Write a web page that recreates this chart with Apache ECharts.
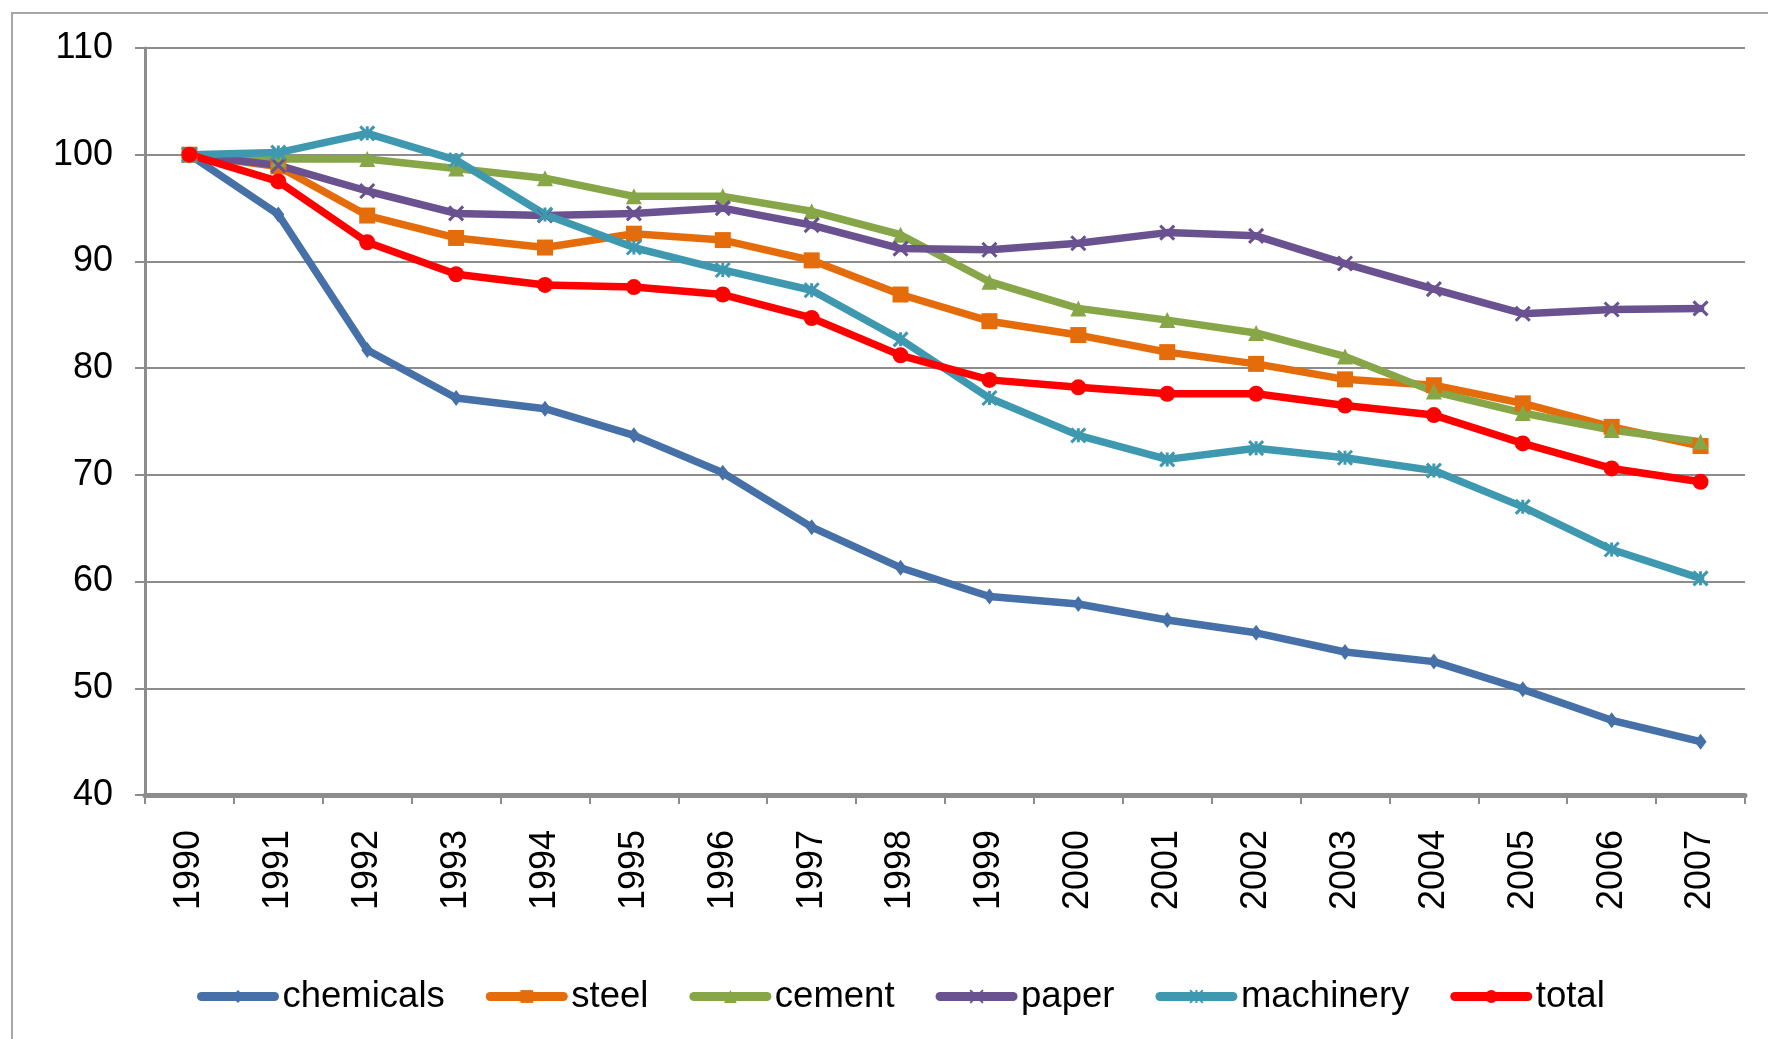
<!DOCTYPE html>
<html>
<head>
<meta charset="utf-8">
<script src="https://cdn.jsdelivr.net/npm/echarts@6/dist/echarts.min.js"></script>
<style>html,body{margin:0;padding:0;background:#fff;}#c{width:1768px;height:1039px;}</style>
</head>
<body>
<div id="c"></div>
<script>
const years = ['1990','1991','1992','1993','1994','1995','1996','1997','1998','1999','2000','2001','2002','2003','2004','2005','2006','2007'];
const chemicals = [100,94.4,81.7,77.2,76.2,73.7,70.2,65.1,61.3,58.6,57.9,56.4,55.2,53.4,52.5,49.9,47.0,45.0];
const steel = [100,98.9,94.3,92.2,91.3,92.6,92.0,90.1,86.9,84.4,83.1,81.5,80.4,78.95,78.4,76.7,74.5,72.7];
const cement = [100,99.6,99.6,98.7,97.8,96.1,96.1,94.7,92.5,88.1,85.6,84.5,83.3,81.1,77.8,75.8,74.2,73.1];
const paper = [100,99.0,96.6,94.5,94.3,94.5,95.0,93.4,91.2,91.1,91.7,92.7,92.4,89.8,87.4,85.1,85.5,85.6];
const machinery = [100,100.2,102.0,99.5,94.4,91.3,89.2,87.3,82.7,77.2,73.7,71.45,72.5,71.6,70.4,67.0,63.0,60.3];
const total = [100,97.5,91.8,88.8,87.8,87.6,86.9,84.7,81.2,78.9,78.2,77.6,77.6,76.5,75.6,72.95,70.6,69.35];
const yTicks = {min: 40, max: 110, interval: 10};

const FONT = '"Liberation Sans", Arial, sans-serif';
const xPath = 'path://M0 0L10 10M10 0L0 10';
const starPath = 'path://M0 0L10 10M10 0L0 10M5 0L5 10';

function mk(name, data, color, symbol, size, stroke) {
  return {
    name: name, type: 'line', data: data,
    symbol: symbol, symbolSize: size,
    lineStyle: {width: 7.5, color: color, cap: 'round', join: 'round'},
    itemStyle: stroke ? {color: color, borderColor: color, borderWidth: 3} : {color: color},
    emphasis: {disabled: true},
    animation: false
  };
}

const chart = echarts.init(document.getElementById('c'), null, {renderer: 'canvas'});
chart.setOption({
  animation: false,
  backgroundColor: '#ffffff',
  graphic: [{
    type: 'rect', silent: true,
    shape: {x: 12, y: 13, width: 1800, height: 1100},
    style: {fill: 'none', stroke: '#a6a6a6', lineWidth: 2}
  }],
  grid: {left: 145, right: 23, top: 48, bottom: 244, containLabel: false},
  legend: {
    left: 192, top: 973,
    itemWidth: 73, itemHeight: 16, itemGap: 41,
    lineStyle: {width: 9, cap: 'round'},
    textStyle: {fontSize: 36.5, fontFamily: FONT, color: '#000', padding: [0, 0, 0, 3]},
    data: ['chemicals','steel','cement','paper','machinery','total']
  },
  xAxis: {
    type: 'category', data: years, boundaryGap: true,
    axisLine: {show: true, lineStyle: {color: '#8c8c8c', width: 5}},
    axisTick: {show: true, interval: 0, length: 9, lineStyle: {color: '#8c8c8c', width: 2}},
    axisLabel: {interval: 0, rotate: 90, margin: 35, fontSize: 36, fontFamily: FONT, color: '#000'},
    splitLine: {show: false}
  },
  yAxis: {
    type: 'value', min: yTicks.min, max: yTicks.max, interval: yTicks.interval,
    axisLine: {show: true, lineStyle: {color: '#8c8c8c', width: 3}},
    axisTick: {show: true, length: 10, lineStyle: {color: '#8c8c8c', width: 2}},
    axisLabel: {margin: 32, fontSize: 36, fontFamily: FONT, color: '#000'},
    splitLine: {show: true, lineStyle: {color: '#8c8c8c', width: 2}}
  },
  series: [
    mk('chemicals', chemicals, '#4670A8', 'diamond', [12, 16], false),
    mk('steel', steel, '#E46C0A', 'rect', 16, false),
    mk('cement', cement, '#86A648', 'triangle', 16, false),
    mk('paper', paper, '#6A5190', xPath, 14, true),
    mk('machinery', machinery, '#3E99B0', starPath, 14, true),
    mk('total', total, '#FF0000', 'circle', 16, false)
  ]
});
</script>
</body>
</html>
